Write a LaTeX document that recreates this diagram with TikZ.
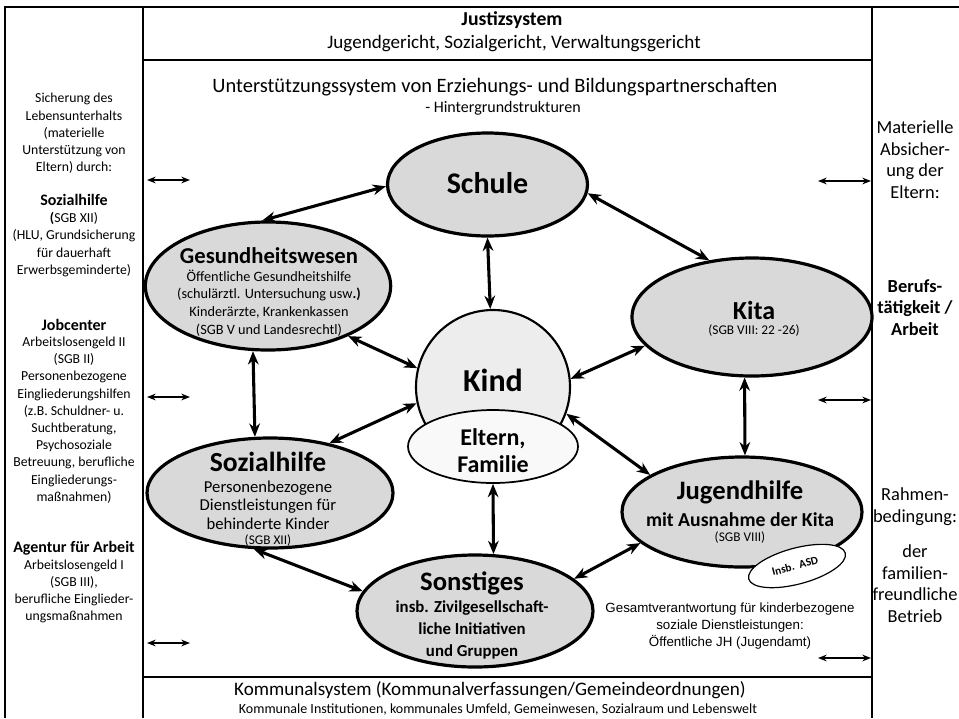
\documentclass[tikz,border=0pt]{standalone}
\usepackage{fontspec}
\setmainfont{Carlito}
\newfontfamily\arialfont{Liberation Sans}
\usetikzlibrary{shapes.geometric,arrows.meta}
\definecolor{bubblegray}{RGB}{217,217,217}
\definecolor{kindgray}{RGB}{237,237,237}
\definecolor{elternfill}{RGB}{249,249,249}
\newcommand\fsz[2]{\fontsize{#1pt}{#2pt}\selectfont}
\begin{document}
\begin{tikzpicture}[x=0.75pt,y=-0.75pt,
  frame/.style={line width=1.5pt},
  bubble/.style={ellipse,draw=black,line width=2.4pt,fill=bubblegray,inner sep=0pt},
  conn/.style={line width=2.3pt,{Stealth[length=10pt,width=8pt]}-{Stealth[length=10pt,width=8pt]}},
  side/.style={line width=1.1pt,{Stealth[length=6.5pt,width=5pt]}-{Stealth[length=6.5pt,width=5pt]}},
  txt/.style={inner sep=0pt,align=center},
  lefttxt/.style={txt,font=\fsz{10.3}{12.9}},
  lefthead/.style={txt,font=\bfseries\fsz{12}{14}},
  righttxt/.style={txt,font=\fsz{13.8}{16.2}},
]
\useasboundingbox (0,0) rectangle (959,718);

% outer frame and the bands of the middle column
\draw[frame] (5,718) -- (5,7) -- (959,7);
\draw[frame] (143,7) -- (143,718);
\draw[frame] (872,7) -- (872,718);
\draw[frame] (143,60) -- (872,60);
\draw[frame] (143,677) -- (872,677);

% top and bottom bands
\node[txt,font=\bfseries\fsz{14.8}{17}] (justizT) at (512,20) {Justizsystem};
\node[txt,font=\fsz{14.3}{16}] (justizS) at (514,44) {Jugendgericht, Sozialgericht, Verwaltungsgericht};
\node[txt,font=\fsz{15.35}{17}] (unterT) at (495,87) {Unterstützungssystem von Erziehungs- und Bildungspartnerschaften};
\node[txt,font=\fsz{12}{14}] (unterS) at (503,108) {- Hintergrundstrukturen};
\node[txt,font=\fsz{14.3}{17}] (kommT) at (490,690) {Kommunalsystem (Kommunalverfassungen/Gemeindeordnungen)};
\node[txt,font=\fsz{10.5}{12}] (kommS) at (498,710) {Kommunale Institutionen, kommunales Umfeld, Gemeinwesen, Sozialraum und Lebenswelt};

% left column
\node[lefttxt] (l1) at (74,133.5) {Sicherung des\\Lebensunterhalts\\(materielle\\Unterstützung von\\Eltern) durch:};
\node[lefthead] (l2h) at (74,200) {Sozialhilfe};
\node[lefttxt] (l2) at (74,244.5) {\textbf{(}SGB XII)\\(HLU, Grundsicherung\\für dauerhaft\\Erwerbsgeminderte)};
\node[lefthead] (l3h) at (74,325) {Jobcenter};
\node[lefttxt] (l3) at (74,420) {Arbeitslosengeld II\\(SGB II)\\Personenbezogene\\Eingliederungshilfen\\(z.B. Schuldner- u.\\Suchtberatung,\\Psychosoziale\\Betreuung, berufliche\\Eingliederungs-\\maßnahmen)};
\node[lefthead] (l4h) at (74,548) {Agentur für Arbeit};
\node[lefttxt] (l4) at (74,591.5) {Arbeitslosengeld I\\(SGB III),\\berufliche Einglieder-\\ungsmaßnahmen};

% right column
\node[righttxt] (r1) at (915,159.5) {Materielle\\Absicher-\\ung der\\Eltern:};
\node[righttxt,font=\bfseries\fsz{13.8}{16.2}] (r2) at (915,307.5) {Berufs-\\tätigkeit /\\Arbeit};
\node[righttxt] (r3) at (915,506.5) {Rahmen-\\bedingung:};
\node[righttxt] (r4) at (915,583.5) {der\\familien-\\freundliche\\Betrieb};

% bubbles
\node[bubble,minimum width=150pt,minimum height=77.25pt] (schule) at (487.5,184.5) {};
\node[bubble,minimum width=184pt,minimum height=96pt] (ges) at (268,286) {};
\node[bubble,minimum width=180pt,minimum height=88.5pt] (kita) at (752,317) {};
\node[bubble,minimum width=184.5pt,minimum height=82.5pt] (soz) at (270,493) {};
\node[bubble,minimum width=180pt,minimum height=82.5pt] (jug) at (742,512) {};
\node[bubble,minimum width=177pt,minimum height=84pt] (sonst) at (475,611) {};
\node[circle,draw=black,line width=1.6pt,fill=kindgray,minimum size=115.5pt,inner sep=0pt] (kind) at (493,387) {};
\node[ellipse,draw=black,line width=1.3pt,fill=elternfill,minimum width=127.5pt,minimum height=54.75pt,inner sep=0pt] (eltern) at (493,446.5) {};
\node[ellipse,draw=black,line width=0.9pt,fill=white,minimum width=75pt,minimum height=27pt,inner sep=0pt,rotate=15] (asd) at (797,566) {};

% bubble texts
\node[txt,font=\bfseries\fsz{22.5}{26}] (schuleT) at (487.5,183) {Schule};
\node[txt,font=\bfseries\fsz{17}{20}] (gesT) at (269,256) {Gesundheitswesen};
\node[txt,font=\fsz{10.7}{13.3}] (gesS) at (269,303) {Öffentliche Gesundheitshilfe\\(schulärztl. Untersuchung usw\textbf{.)}\\Kinderärzte, Krankenkassen\\(SGB V und Landesrechtl)};
\node[txt,font=\bfseries\fsz{19.5}{22}] (kitaT) at (754,310) {Kita};
\node[txt,font=\fsz{10}{12}] (kitaS) at (754,331) {(SGB VIII: 22 -26)};
\node[txt,font=\bfseries\fsz{24}{28}] (kindT) at (493,380) {Kind};
\node[txt,font=\bfseries\fsz{18}{20.25}] (elternT) at (493,451) {Eltern,\\Familie};
\node[txt,font=\bfseries\fsz{20.7}{24}] (sozT) at (268,462) {Sozialhilfe};
\node[txt,font=\fsz{12.5}{13.9}] (sozS) at (268,505) {Personenbezogene\\Dienstleistungen für\\behinderte Kinder};
\node[txt,font=\fsz{10}{12}] (sozR) at (268,541) {(SGB XII)};
\node[txt,font=\bfseries\fsz{20}{24}] (jugT) at (740,492) {Jugendhilfe};
\node[txt,font=\bfseries\fsz{14.8}{17}] (jugS) at (740,520) {mit Ausnahme der Kita};
\node[txt,font=\fsz{10}{12}] (jugR) at (740,538) {(SGB VIII)};
\node[txt,font=\bfseries\fsz{8.5}{10},rotate=15] (asdT) at (795,566) {Insb.\ \ ASD};
\node[txt,font=\bfseries\fsz{20}{24}] (sonstT) at (472,583) {Sonstiges};
\node[txt,font=\bfseries\fsz{12.6}{16.5}] (sonstS) at (472,630) {insb. Zivilgesellschaft-\\liche Initiativen\\und Gruppen};
\node[txt,font=\arialfont\fsz{10}{12.75}] (gesamt) at (730,626) {Gesamtverantwortung für kinderbezogene\\soziale Dienstleistungen:\\Öffentliche JH (Jugendamt)};

% connectors between the bubbles
\draw[conn] (schule.181) -- (ges.95);
\draw[conn] (schule.south) -- (kind.92);
\draw[conn] (schule.-5) -- (kita.127);
\draw[conn] (ges.-103) -- (soz.105);
\draw[conn] (ges.-32) -- (kind.166);
\draw[conn] (kita.195) -- (kind.6);
\draw[conn] (kita.-97) -- (jug.87);
\draw[conn] (soz.40) -- (kind.192);
\draw[conn] (kind.-20) -- (jug.158);
\draw[conn] (eltern.south) -- (sonst.72);
\draw[conn] (soz.-106) -- (sonst.170);
\draw[conn] (sonst.18) -- (jug.197);

% links to the side columns
\coordinate (sl1a) at (147,180); \coordinate (sl1b) at (190,180);
\coordinate (sl2a) at (147,397); \coordinate (sl2b) at (190,397);
\coordinate (sl3a) at (147,643); \coordinate (sl3b) at (190,643);
\coordinate (sr1a) at (818,181); \coordinate (sr1b) at (871,181);
\coordinate (sr2a) at (818,400); \coordinate (sr2b) at (871,400);
\coordinate (sr3a) at (818,658); \coordinate (sr3b) at (871,658);
\draw[side] (sl1a) -- (sl1b);
\draw[side] (sl2a) -- (sl2b);
\draw[side] (sl3a) -- (sl3b);
\draw[side] (sr1a) -- (sr1b);
\draw[side] (sr2a) -- (sr2b);
\draw[side] (sr3a) -- (sr3b);
\end{tikzpicture}
\end{document}
